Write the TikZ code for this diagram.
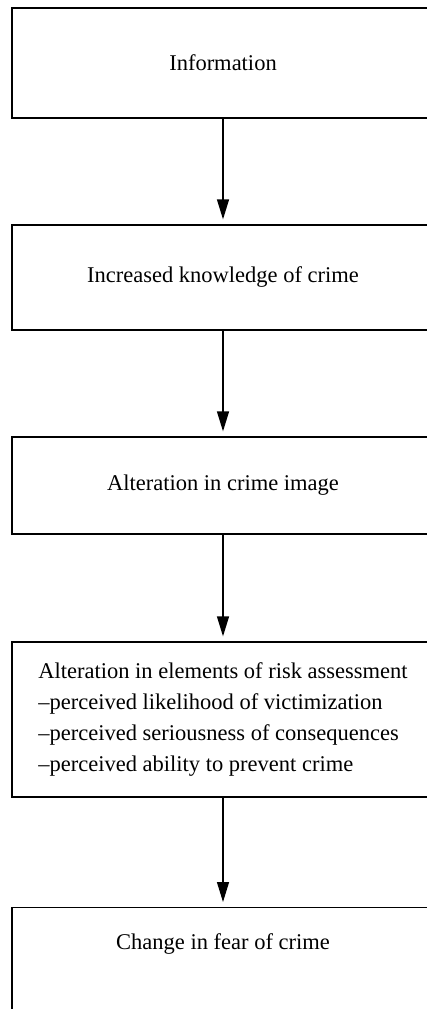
\documentclass[tikz,border=0pt]{standalone}
\usepackage{fontspec}
\setmainfont{Liberation Serif}
\usetikzlibrary{arrows.meta,positioning}

\begin{document}
\begin{tikzpicture}[x=1pt, y=-1pt,
    stage/.style={
      draw=black, line width=1.3pt,
      minimum width=422pt,
      inner sep=0pt,
      font=\fontsize{22.5}{31}\selectfont
    },
    arr/.style={-{Triangle[length=20pt,width=12pt]}, line width=1.3pt, draw=black, shorten >=5pt}
  ]

  \useasboundingbox (0,0) rectangle (426,1009);

  % Nodes
  \node[stage, minimum height=110pt] (info) at (223,63) {Information};
  \node[stage, minimum height=105pt] (know) at (223,277.5) {Increased knowledge of crime};
  \node[stage, minimum height=97pt]  (image) at (223,485.5) {Alteration in crime image};
  \node[stage, minimum height=155pt, align=left] (risk) at (223,719.5)
    {Alteration in elements of risk assessment\\
     --perceived likelihood of victimization\\
     --perceived seriousness of consequences\\
     --perceived ability to prevent crime};
  \node[stage, minimum height=110pt, anchor=north,
        text height=16pt, text depth=42pt] (fear) at (223,907) {Change in fear of crime};

  % Arrows between stages
  \draw[arr] (info.south)  -- (know.north);
  \draw[arr] (know.south)  -- (image.north);
  \draw[arr] (image.south) -- (risk.north);
  \draw[arr] (risk.south)  -- (fear.north);

\end{tikzpicture}
\end{document}
